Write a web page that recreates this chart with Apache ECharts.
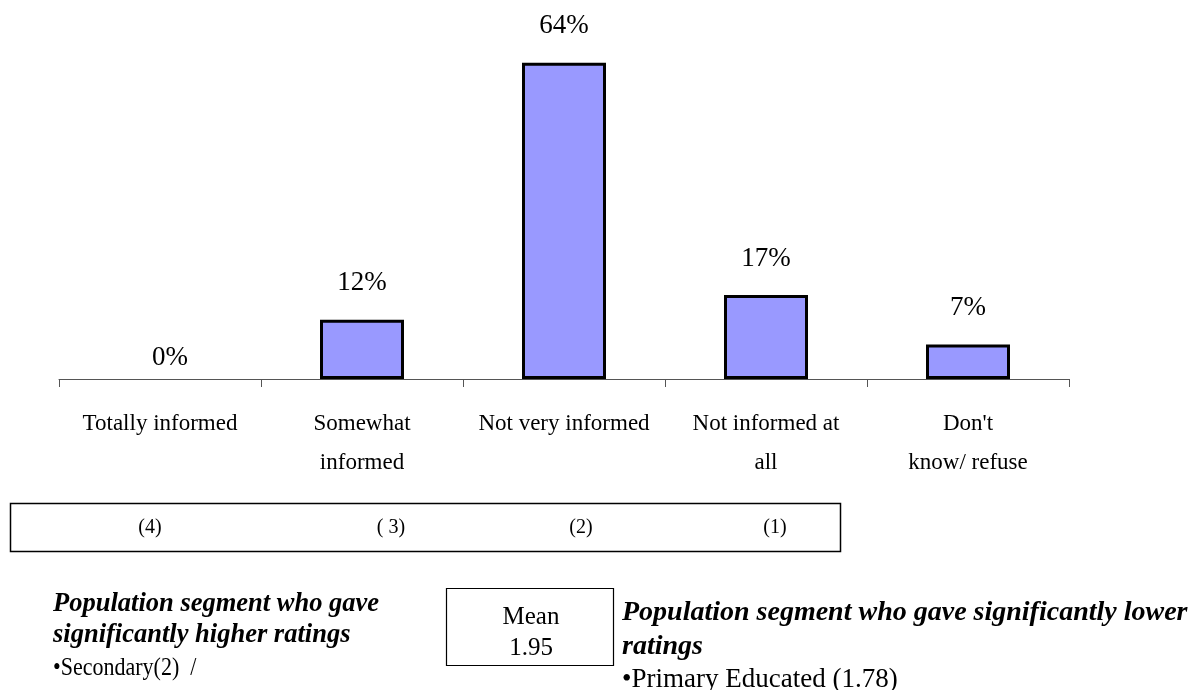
<!DOCTYPE html>
<html>
<head>
<meta charset="utf-8">
<script src="https://cdn.jsdelivr.net/npm/echarts@6/dist/echarts.min.js"></script>
<style>
  html, body { margin: 0; padding: 0; background: #fff; }
  #chart { width: 1194px; height: 690px; }
</style>
</head>
<body>
<div id="chart"></div>
<script>
// Survey answers: how informed respondents feel
const categories = [
  'Totally informed',
  'Somewhat\ninformed',
  'Not very informed',
  'Not informed at\nall',
  "Don't\nknow/ refuse"
];
const shares = [0, 12, 64, 17, 7];          // percent of respondents
const scoreLabels = ['(4)', '( 3)', '(2)', '(1)'];
const meanScore = '1.95';
const higherTitle = ['Population segment who gave', 'significantly higher ratings'];
const higherItems = ['\u2022Secondary(2)  /'];
const lowerTitle = ['Population segment who gave significantly lower', 'ratings'];
const lowerItems = ['\u2022Primary Educated (1.78)'];

const SERIF = "'Liberation Serif', 'Times New Roman', serif";
const chart = echarts.init(document.getElementById('chart'), null, { renderer: 'canvas' });

// score legend positions inside the box under the axis
const scoreX = [150, 391, 581, 775];

function textEl(x, y, text, font, sx) {
  return {
    type: 'text', x: x, y: y, scaleX: sx || 1,
    style: { text: text, font: font, fill: '#000', align: 'left', verticalAlign: 'middle' }
  };
}

const graphics = [
  { type: 'rect', shape: { x: 10.5, y: 503.5, width: 830, height: 48 },
    style: { fill: 'none', stroke: '#000', lineWidth: 1.5 } },
  ...scoreLabels.map((t, i) => ({
    type: 'text', x: scoreX[i], y: 528,
    style: { text: t, font: '20px ' + SERIF, fill: '#000', align: 'center', verticalAlign: 'middle' }
  })),
  { type: 'rect', shape: { x: 446.5, y: 588.5, width: 167, height: 77 },
    style: { fill: 'none', stroke: '#000', lineWidth: 1.2 } },
  { type: 'text', x: 531, y: 617,
    style: { text: 'Mean', font: '25px ' + SERIF, fill: '#000', align: 'center', verticalAlign: 'middle' } },
  { type: 'text', x: 531, y: 648,
    style: { text: meanScore, font: '25px ' + SERIF, fill: '#000', align: 'center', verticalAlign: 'middle' } },
  ...higherTitle.map((t, i) => textEl(53, 604 + i * 31, t, 'italic bold 26.5px ' + SERIF)),
  ...higherItems.map((t, i) => textEl(53, 668 + i * 31, t, '25px ' + SERIF, 0.88)),
  ...lowerTitle.map((t, i) => textEl(622, 613 + i * 34, t, 'italic bold 28px ' + SERIF)),
  ...lowerItems.map((t, i) => textEl(622, 680 + i * 34, t, '27px ' + SERIF))
];

chart.setOption({
  animation: false,
  backgroundColor: '#fff',
  grid: { left: 59, right: 125, top: 33, bottom: 311, containLabel: false },
  xAxis: {
    type: 'category',
    data: categories,
    boundaryGap: true,
    axisLine: { show: true, lineStyle: { color: '#555', width: 1 } },
    axisTick: { show: true, length: 8, alignWithLabel: false, lineStyle: { color: '#555' } },
    axisLabel: {
      interval: 0, margin: 25, color: '#000', fontFamily: SERIF,
      fontSize: 23, lineHeight: 39
    }
  },
  yAxis: { type: 'value', min: 0, max: 70, show: false, splitLine: { show: false } },
  series: [{
    type: 'bar',
    barWidth: 84,
    data: shares.map(v => ({
      value: v,
      // an empty bar has no outline; its label sits just above the axis
      itemStyle: v === 0 ? { borderWidth: 0 } : undefined,
      label: v === 0 ? { distance: 8, offset: [10, 0] } : { distance: 23 }
    })),
    itemStyle: { color: '#9999FF', borderColor: '#000', borderWidth: 3 },
    label: {
      show: true, position: 'top', formatter: '{c}%',
      color: '#000', fontFamily: SERIF, fontSize: 27
    }
  }],
  graphic: graphics
});
</script>
</body>
</html>
